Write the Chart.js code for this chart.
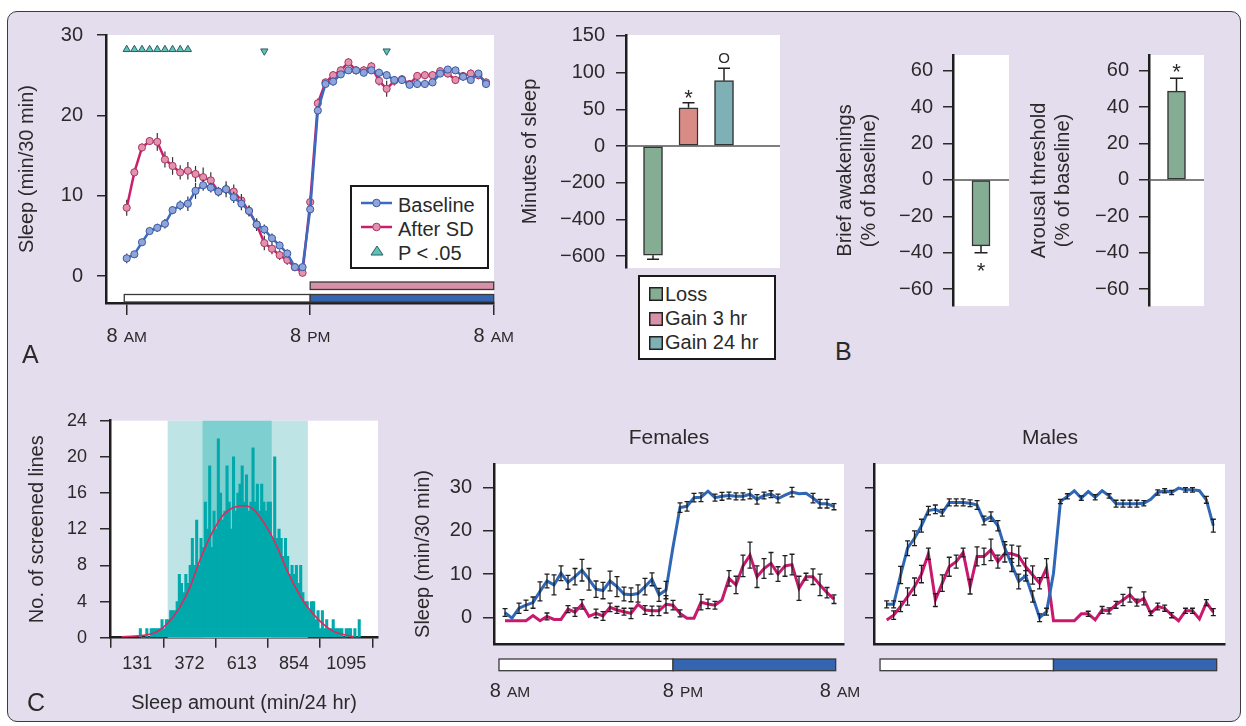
<!DOCTYPE html>
<html>
<head>
<meta charset="utf-8">
<script src="https://cdn.jsdelivr.net/npm/chart.js@4.4.1/dist/chart.umd.min.js"></script>
<style>
html, body { margin: 0; padding: 0; background: #fff; }
body { width: 1246px; height: 726px; position: relative; overflow: hidden;
       font-family: 'Liberation Sans', Arial, Helvetica, sans-serif; color: #2a2a2a; }
#frame { position: absolute; left: 7px; top: 11px; width: 1232px; height: 709px;
         border: 1.5px solid #3c3c3c; border-radius: 10px; background: #e4ddee; }
canvas { position: absolute; }
.panel { position: absolute; font-size: 25px; line-height: 25px; }
.ttl { position: absolute; font-size: 21px; line-height: 21px; transform: translateX(-50%); white-space: nowrap; }
.legend { position: absolute; background: #fff; border: 2px solid #1a1a1a; box-sizing: border-box; }
.row { position: absolute; left: 0; width: 100%; height: 24px; font-size: 20px; line-height: 24px; white-space: nowrap; }
.row span { position: absolute; top: 0; }
.row svg { position: absolute; top: 0; }
</style>
</head>
<body>
<div id="frame"></div>

<canvas id="cA"  width="520" height="355" style="left:10px;top:5px"></canvas>
<canvas id="cB1" width="280" height="295" style="left:510px;top:5px"></canvas>
<canvas id="cB2" width="200" height="311" style="left:820px;top:25px"></canvas>
<canvas id="cB3" width="200" height="311" style="left:1015px;top:25px"></canvas>
<canvas id="cH"  width="370" height="327" style="left:20px;top:390px"></canvas>
<canvas id="cF"  width="465" height="290" style="left:405px;top:420px"></canvas>
<canvas id="cM"  width="380" height="290" style="left:855px;top:420px"></canvas>

<div class="panel" style="left:22px;top:342px">A</div>
<div class="panel" style="left:835px;top:339px">B</div>
<div class="panel" style="left:27px;top:690px">C</div>
<div class="ttl" id="tF" style="left:669px;top:426px"></div>
<div class="ttl" id="tM" style="left:1050px;top:426px"></div>

<div class="legend" id="legA" style="left:350px;top:185px;width:139px;height:84px"></div>
<div class="legend" id="legB" style="left:638px;top:275px;width:138px;height:85px"></div>

<script>
// ---------- data ----------
// Panel A: sleep per 30 min, 48 half-hour bins starting 8 AM
const seriesNamesA = ['Baseline', 'After SD', 'P < .05'];
const baselineA = [2.2, 2.7, 4.2, 5.6, 6.0, 6.5, 8.2, 8.8, 9.0, 10.6, 11.3, 11.0, 10.5, 10.8, 9.8, 9.0,
  8.1, 6.4, 5.8, 4.7, 3.8, 2.8, 1.1, 1.1, 8.3, 20.6, 23.9, 24.2, 25.1, 25.6, 25.6, 25.3,
  25.6, 25.3, 25.0, 24.4, 24.4, 23.8, 23.9, 23.9, 24.1, 25.2, 25.7, 25.6, 24.8, 24.4, 25.2, 23.9];
const baselineErrA = [0.6, 0.4, 0.4, 0.4, 0.5, 0.6, 0.5, 0.6, 0.9, 1.0, 0.7, 0.6, 0.5, 0.6, 0.7, 0.8,
  0.7, 0.6, 0.6, 0.6, 0.5, 0.5, 0.4, 0.4, 0.6, 0.5, 0.4, 0.5, 0.4, 0.4, 0.4, 0.4,
  0.4, 0.5, 0.5, 0.4, 0.4, 0.4, 0.5, 0.4, 0.4, 0.4, 0.4, 0.4, 0.5, 0.4, 0.4, 0.4];
const afterSdA = [8.5, 12.9, 16.0, 16.8, 16.7, 14.5, 13.7, 12.9, 13.1, 12.7, 12.3, 11.9, 10.5, 10.8, 10.5, 9.4,
  8.1, 6.4, 4.1, 3.4, 2.6, 2.0, 1.1, 0.4, 9.2, 21.5, 24.1, 25.0, 25.6, 26.6, 25.6, 25.6,
  26.1, 24.3, 23.3, 24.3, 24.5, 23.9, 24.9, 25.0, 25.0, 25.5, 25.2, 24.4, 24.9, 25.2, 25.0, 24.1];
const afterSdErrA = [1.0, 0.5, 0.5, 0.5, 1.1, 1.0, 1.1, 0.9, 1.1, 1.0, 1.2, 1.0, 0.6, 1.0, 0.9, 0.8,
  0.6, 0.8, 0.9, 0.7, 0.6, 0.6, 0.4, 0.4, 0.8, 0.6, 0.5, 0.5, 0.5, 0.5, 0.5, 0.5,
  0.5, 0.6, 1.0, 0.6, 0.5, 0.5, 0.5, 0.5, 0.5, 0.5, 0.5, 0.5, 0.5, 0.5, 0.5, 0.5];
const sigUpHours = [0, 0.5, 1, 1.5, 2, 2.5, 3, 3.5, 4];
const sigDownHours = [9, 17];
const clockLabels = ['8 AM', '8 PM', '8 AM'];
const clockHours = [0, 12, 24];

// Panel B
const categoriesB = ['Loss', 'Gain 3 hr', 'Gain 24 hr'];
const minutesB = [-595, 52, 89];
const minutesErrB = [22, 7, 17];
const minutesMarkB = ['', '*', 'O'];
const awakeningsB = [-36.2];
const awakeningsErrB = [3.7];
const arousalB = [48.8];
const arousalErrB = [7.0];
const pctTicks = [-60, -40, -20, 0, 20, 40, 60];

// Panel C histogram (10-min bins starting at 140 min)
const binStart = 140, binWidth = 10;
const histCounts = [1, 0, 0, 1, 0, 1, 1, 1, 1, 1, 2, 1, 2, 2, 3, 3, 3, 4, 7, 6,
  5, 7, 6, 8, 11, 8, 13, 8, 11, 10, 15, 12, 19, 10, 14, 12, 22, 16, 13, 14,
  19, 15, 12, 20, 14, 16, 17, 19, 15, 18, 14, 15, 21, 15, 17, 14, 17, 15, 14, 15,
  15, 11, 20, 11, 12, 11, 9, 11, 9, 7, 8, 7, 8, 6, 8, 5, 4, 4, 3, 4,
  4, 2, 3, 1, 3, 1, 2, 1, 1, 2, 1, 1, 1, 1, 0, 1, 1, 1, 0, 1, 0, 2];
const fitX = [59, 205, 267, 328, 374, 420, 474, 528, 574, 624, 667, 721, 775, 821, 867, 913, 975, 1036, 1098, 1129];
const fitY = [0.1, 0.5, 1.5, 3.4, 5.6, 8.6, 11.5, 13.6, 14.4, 14.6, 14.2, 12.5, 10.1, 7.5, 5.3, 3.5, 1.8, 0.7, 0.26, 0.1];
const sdBands = [[271, 918], [432, 751]];
const histTicks = [131, 372, 613, 854, 1095];

// Panel C sexes
const sexTitles = ['Females', 'Males'];
const femaleBase = [1.1, -0.2, 2.1, 2.8, 3.4, 6.0, 8.4, 7.5, 10.2, 8.1, 9.4, 10.9, 8.8, 6.5, 6.2, 8.4,
  7.1, 5.4, 5.2, 5.5, 7.1, 8.8, 5.2, 6.3, 16.3, 25.4, 25.7, 27.7, 27.8, 29.2, 27.7, 28.0,
  28.2, 28.0, 28.0, 28.5, 27.3, 28.2, 28.5, 27.5, 28.3, 29.0, 28.6, 28.7, 27.6, 26.3, 26.3, 25.6];
const femaleBaseErr = [0.9, 0, 1.2, 1.2, 1.3, 2.2, 1.6, 2.3, 1.7, 1.6, 1.9, 2.5, 2.5, 1.9, 1.9, 2.3,
  2.3, 1.6, 1.6, 2.0, 1.9, 1.5, 1.5, 2.0, 0, 1.1, 1.1, 1.0, 1.0, 0, 0.8, 0.9,
  0.8, 0.8, 0.8, 1.1, 1.1, 0.8, 0.8, 1.0, 0, 1.1, 0, 0, 1.1, 1.0, 1.0, 0.7];
const femaleSd = [-0.8, -0.8, -0.8, -0.8, 0.4, -0.8, 0.2, -0.5, -0.5, 1.9, 1.2, 3.0, 0.2, 0.9, 0.3, 2.3,
  1.7, 1.3, 0.9, 3.0, 1.7, 1.5, 1.5, 3.0, 2.8, 0.9, -0.2, -0.2, 3.5, 3.1, 2.8, 4.0,
  9.0, 7.5, 11.9, 14.4, 9.4, 11.3, 12.5, 10.0, 11.9, 12.2, 6.7, 9.4, 9.4, 7.5, 5.7, 4.2];
const femaleSdErr = [0, 0, 0, 0, 0, 0, 0.8, 0, 0, 0.8, 1.0, 1.1, 0, 1.0, 1.0, 1.0,
  0.8, 0.8, 1.2, 0, 1.0, 1.1, 1.1, 2.0, 1.1, 0.8, 0, 0, 1.8, 1.1, 0.9, 0,
  1.8, 2.0, 2.5, 3.0, 2.5, 2.3, 2.5, 1.7, 2.4, 2.4, 2.8, 0.8, 1.8, 2.5, 1.2, 1.0];
const maleBase = [3.0, 3.0, 9.8, 16.0, 18.3, 21.2, 24.7, 25.0, 24.2, 26.6, 26.6, 26.6, 26.4, 26.0, 22.4, 23.3,
  21.2, 16.0, 12.1, 8.3, 9.6, 4.8, -0.1, 1.3, 10.2, 26.8, 28.0, 29.3, 27.6, 29.1, 27.8, 29.3,
  28.1, 26.3, 26.3, 26.3, 26.3, 26.4, 27.3, 28.9, 29.3, 28.9, 29.9, 29.5, 29.5, 29.3, 27.2, 21.2];
const maleBaseErr = [0.8, 0.8, 2.0, 1.7, 1.7, 1.5, 1.0, 1.0, 0.8, 0.8, 0.8, 0.8, 0.8, 1.0, 1.0, 1.1,
  1.2, 1.5, 1.5, 1.7, 1.2, 1.3, 0.9, 0.8, 0, 0.5, 0.6, 0, 0.5, 0, 0.6, 0,
  0.5, 0.8, 0.8, 0.8, 0.8, 0.6, 0, 0.6, 0.5, 0.5, 0, 0.5, 0.5, 0, 0.8, 1.5];
const maleSd = [-0.6, 0.5, 2.5, 4.8, 7.1, 10.0, 14.7, 4.0, 7.9, 11.7, 12.9, 15.0, 7.1, 14.1, 14.1, 15.6,
  12.9, 14.8, 14.7, 14.2, 11.7, 9.8, 7.9, 11.4, -0.8, -0.8, -0.8, -0.8, 0.8, 0.8, -0.6, 1.7,
  1.5, 2.9, 4.0, 5.2, 3.4, 4.4, 0.9, 2.5, 2.1, 0.5, -0.8, 1.5, 1.5, -0.4, 3.4, 1.2];
const maleSdErr = [0, 1.0, 1.2, 2.0, 2.0, 2.0, 1.3, 1.5, 1.9, 2.2, 1.5, 1.0, 1.7, 2.2, 1.9, 2.5,
  1.5, 2.0, 2.0, 2.3, 2.0, 2.1, 1.3, 2.2, 0, 0, 0, 0, 0, 0.6, 0, 0.8,
  0.7, 0.8, 1.3, 1.7, 0.8, 1.5, 0.5, 0.8, 0.7, 0.6, 0, 0.6, 0.6, 0, 0.7, 0.8];
const sleepTicks = [0, 10, 20, 30];

// ---------- styling ----------
const FONT = "'Liberation Sans', Arial, Helvetica, sans-serif";
const INK = '#2a2a2a';
const BLUE_A = '#3b6bbf', PINK_A = '#cc1e6d';
const BLUE_C = '#2f67b7', PINK_C = '#c9196f';
const DAY_WHITE = '#ffffff', NIGHT_BLUE = '#3565b0', SD_PINK = '#d690a8';

Chart.defaults.font.family = FONT;
Chart.defaults.font.size = 20;
Chart.defaults.color = INK;
Chart.defaults.animation = false;
Chart.defaults.responsive = false;
Chart.defaults.plugins.legend.display = false;
Chart.defaults.plugins.tooltip.enabled = false;

const halfHours = arr => arr.map((v, i) => ({ x: i * 0.5, y: v }));
const minus = v => v < 0 ? '\u2212' + (-v) : String(v);

// ---------- plugins ----------
const areaFill = {
  id: 'areaFill',
  beforeDraw(chart) {
    const a = chart.chartArea, ctx = chart.ctx;
    ctx.save();
    ctx.fillStyle = '#fff';
    ctx.fillRect(a.left, a.top, a.right - a.left, a.bottom - a.top);
    ctx.restore();
  }
};

function drawErrors(chart, index, o) {
  const ds = chart.data.datasets[index];
  if (!ds.err) return;
  const meta = chart.getDatasetMeta(index);
  const ys = chart.scales.y, ctx = chart.ctx;
  const tf = o.transform || (v => v);
  ctx.save();
  ctx.strokeStyle = o.color; ctx.lineWidth = o.width;
  meta.data.forEach((el, k) => {
    const e = ds.err[k];
    const v = ds.raw ? ds.raw[k] : ds.data[k].y;
    let lo = v - e, hi = v + e;
    if (o.outward) { if (v >= 0) lo = v; else hi = v; }
    const y1 = ys.getPixelForValue(tf(lo)), y2 = ys.getPixelForValue(tf(hi));
    if (e) {
      ctx.beginPath();
      ctx.moveTo(el.x, y1); ctx.lineTo(el.x, y2);
      if (o.cap) {
        const c = o.cap / 2;
        if (!o.outward || v < 0) { ctx.moveTo(el.x - c, y1); ctx.lineTo(el.x + c, y1); }
        if (!o.outward || v >= 0) { ctx.moveTo(el.x - c, y2); ctx.lineTo(el.x + c, y2); }
      }
      ctx.stroke();
    }
    const mark = ds.marks && ds.marks[k];
    if (mark) {
      const size = mark === '*' ? 22 : 15;
      const lift = mark === '*' ? 0.59 * size : 0.36 * size;
      const cy = v >= 0 ? y2 - o.markGap : y1 + o.markGap;
      ctx.fillStyle = INK;
      ctx.font = size + 'px ' + FONT;
      ctx.textAlign = 'center';
      ctx.textBaseline = 'alphabetic';
      ctx.fillText(mark, el.x, cy + lift);
    }
  });
  ctx.restore();
}
const errorBars = {
  id: 'errorBars',
  beforeDatasetDraw(chart, args, o) { if (o.under) drawErrors(chart, args.index, o); },
  afterDatasetDraw(chart, args, o) { if (!o.under) drawErrors(chart, args.index, o); }
};

const zeroLine = {
  id: 'zeroLine',
  beforeDatasetsDraw(chart) {
    const a = chart.chartArea, ctx = chart.ctx, y = chart.scales.y.getPixelForValue(0);
    ctx.save();
    ctx.strokeStyle = '#555'; ctx.lineWidth = 1.5;
    ctx.beginPath(); ctx.moveTo(a.left, y); ctx.lineTo(a.right, y); ctx.stroke();
    ctx.restore();
  }
};

const bands = {
  id: 'bands',
  beforeDatasetsDraw(chart, args, o) {
    const a = chart.chartArea, ctx = chart.ctx, xs = chart.scales.x;
    ctx.save();
    o.ranges.forEach((r, k) => {
      const x0 = xs.getPixelForValue(r[0]), x1 = xs.getPixelForValue(r[1]);
      ctx.fillStyle = o.colors[k];
      ctx.fillRect(x0, a.top, x1 - x0, a.bottom - a.top);
    });
    ctx.restore();
  }
};

const dayBar = {
  id: 'dayBar',
  afterDraw(chart, args, o) {
    const ctx = chart.ctx, xs = chart.scales.x, base = chart.chartArea.bottom;
    ctx.save();
    (o.bars || []).forEach(b => {
      const x0 = xs.getPixelForValue(b.from), x1 = xs.getPixelForValue(b.to);
      ctx.fillStyle = b.fill;
      ctx.fillRect(x0, base + b.y, x1 - x0, b.h);
      ctx.strokeStyle = '#3a3a3a'; ctx.lineWidth = 1.3;
      ctx.strokeRect(x0, base + b.y, x1 - x0, b.h);
    });
    (o.labels || []).forEach(l => {
      const px = xs.getPixelForValue(l.at);
      const [big, small] = l.text.split(' ');
      ctx.font = '20px ' + FONT; const w1 = ctx.measureText(big).width;
      ctx.font = '15.5px ' + FONT; const w2 = ctx.measureText(small).width;
      const gap = 6, x = px - (w1 + gap + w2) / 2, y = base + o.labelY;
      ctx.fillStyle = INK; ctx.textAlign = 'left'; ctx.textBaseline = 'alphabetic';
      ctx.font = '20px ' + FONT; ctx.fillText(big, x, y);
      ctx.font = '15.5px ' + FONT; ctx.fillText(small, x + w1 + gap, y);
    });
    ctx.restore();
  }
};

// ---------- axis helpers ----------
function yAxis(o) {
  return {
    type: 'linear', min: o.min, max: o.max,
    afterBuildTicks: s => { s.ticks = o.ticks.map(v => ({ value: v })); },
    afterFit: s => { s.width = o.width; },
    grid: { drawOnChartArea: false, drawTicks: true, tickLength: o.tickLen || 10, color: INK, lineWidth: 1.5 },
    border: { display: true, color: '#1e1e1e', width: 2.5 },
    ticks: { display: o.labels !== false, padding: o.pad || 12, font: { size: o.font || 20 }, color: INK,
             callback: o.fmt || minus },
    title: o.title ? { display: true, text: o.title, padding: { top: o.titlePad, bottom: 0 },
                       font: { size: 20 }, color: INK } : { display: false }
  };
}
function hourAxis(min, max, height, tickLen) {
  return {
    type: 'linear', min: min, max: max, offset: false,
    afterBuildTicks: s => { s.ticks = clockHours.map(v => ({ value: v })); },
    afterFit: s => { s.height = height; },
    grid: { display: !!tickLen, drawOnChartArea: false, tickLength: tickLen || 0, color: INK, lineWidth: 1.5 },
    border: { display: true, color: '#1e1e1e', width: 2.5 },
    ticks: { display: false }
  };
}

// ---------- Panel A ----------
new Chart(document.getElementById('cA'), {
  type: 'line',
  data: {
    datasets: [
      { label: seriesNamesA[0], data: halfHours(baselineA), err: baselineErrA,
        borderColor: BLUE_A, borderWidth: 2.5, pointRadius: 3.6, pointBorderWidth: 1,
        pointBackgroundColor: '#8fa4d9', pointBorderColor: '#3b5aa5', tension: 0 },
      { label: seriesNamesA[1], data: halfHours(afterSdA), err: afterSdErrA,
        borderColor: PINK_A, borderWidth: 2.5, pointRadius: 3.6, pointBorderWidth: 1,
        pointBackgroundColor: '#e391b0', pointBorderColor: '#a8385f', tension: 0 },
      { label: seriesNamesA[2], showLine: false,
        data: sigUpHours.map(h => ({ x: h, y: 28.2 })).concat(sigDownHours.map(h => ({ x: h, y: 28.0 }))),
        pointStyle: 'triangle', pointRadius: 4.2, pointBorderWidth: 1,
        pointRotation: sigUpHours.map(() => 0).concat(sigDownHours.map(() => 180)),
        pointBackgroundColor: '#5ec2ba', pointBorderColor: '#2d5f5c' }
    ]
  },
  options: {
    layout: { padding: { left: 0, top: 30, right: 36, bottom: 0 } },
    scales: {
      x: hourAxis(-1.354, 24.02, 57, 12),
      y: yAxis({ min: -3.36, max: 30, ticks: sleepTicks, width: 96, tickLen: 9, pad: 14,
                 title: 'Sleep (min/30 min)', titlePad: 5 })
    },
    plugins: {
      errorBars: { under: true, color: '#333', width: 1.2, cap: 0 },
      dayBar: {
        bars: [
          { from: -0.16, to: 12, y: -8.5, h: 7.5, fill: DAY_WHITE },
          { from: 12, to: 24, y: -8.5, h: 7.5, fill: NIGHT_BLUE },
          { from: 12, to: 24, y: -21, h: 7.5, fill: SD_PINK }
        ],
        labels: clockLabels.map((t, i) => ({ text: t, at: clockHours[i] })),
        labelY: 39
      }
    }
  },
  plugins: [areaFill, errorBars, dayBar]
});

// ---------- Panel B: minutes of sleep (broken axis: negatives compressed 4x) ----------
const toAxis = m => m < 0 ? m / 4 : m;
new Chart(document.getElementById('cB1'), {
  type: 'bar',
  data: {
    datasets: [{
      data: minutesB.map((m, i) => ({ x: i + 1, y: toAxis(m) })),
      raw: minutesB, err: minutesErrB, marks: minutesMarkB,
      backgroundColor: ['#85ad94', '#d98c85', '#7fb0b6'],
      borderColor: '#333', borderWidth: 1.5, borderSkipped: false, barThickness: 19
    }]
  },
  options: {
    layout: { padding: { left: 0, top: 30, right: 10, bottom: 32 } },
    scales: {
      x: { type: 'linear', display: false, min: 0.239, max: 4.577, offset: false },
      y: yAxis({ min: -166.2, max: 151.2, ticks: [-150, -100, -50, 0, 50, 100, 150], width: 116,
                 tickLen: 10, pad: 11, fmt: v => v < 0 ? '\u2212' + (-v * 4) : String(v),
                 title: 'Minutes of sleep', titlePad: 8 })
    },
    plugins: { errorBars: { under: false, outward: true, color: '#222', width: 1.5, cap: 12,
                            transform: toAxis, markGap: 11 } }
  },
  plugins: [areaFill, zeroLine, errorBars]
});

function pctChart(id, values, errs, title, yWidth, titlePad) {
  new Chart(document.getElementById(id), {
    type: 'bar',
    data: {
      datasets: [{
        data: values.map((v, i) => ({ x: i + 1, y: v })), err: errs, marks: ['*'],
        backgroundColor: '#85ad94', borderColor: '#333', borderWidth: 1.5,
        borderSkipped: false, barThickness: 18
      }]
    },
    options: {
      layout: { padding: { left: 0, top: 30, right: 11, bottom: 30 } },
      scales: {
        x: { type: 'linear', display: false, min: 0, max: 2, offset: false },
        y: yAxis({ min: -69.2, max: 68.6, ticks: pctTicks, width: yWidth, tickLen: 10, pad: 10,
                   title: title, titlePad: titlePad })
      },
      plugins: { errorBars: { under: false, outward: true, color: '#222', width: 1.5, cap: 13, markGap: 12 } }
    },
    plugins: [areaFill, zeroLine, errorBars]
  });
}
pctChart('cB2', awakeningsB, awakeningsErrB, ['Brief awakenings', '(% of baseline)'], 133, 13);
pctChart('cB3', arousalB, arousalErrB, ['Arousal threshold', '(% of baseline)'], 134, 12);

// ---------- Panel C: histogram ----------
new Chart(document.getElementById('cH'), {
  type: 'bar',
  data: {
    datasets: [
      { type: 'line', data: fitX.map((x, i) => ({ x: x, y: fitY[i] })), borderColor: '#e5265c',
        borderWidth: 1.6, pointRadius: 0, tension: 0.4, cubicInterpolationMode: 'monotone' },
      { type: 'bar', data: histCounts.map((c, i) => ({ x: binStart + i * binWidth + binWidth / 2, y: c })),
        backgroundColor: '#00a9ab', borderWidth: 0, barThickness: 2.4 }
    ]
  },
  options: {
    layout: { padding: { left: 0, top: 30.7, right: 12, bottom: 0 } },
    scales: {
      x: {
        type: 'linear', min: 5, max: 1241.6, offset: false,
        afterBuildTicks: s => { s.ticks = histTicks.map(v => ({ value: v })); },
        afterFit: s => { s.height = 79.3; },
        grid: { drawOnChartArea: false, tickLength: 10, color: INK, lineWidth: 1.5 },
        border: { display: true, color: '#1e1e1e', width: 2.5 },
        ticks: { font: { size: 18 }, padding: 6, maxRotation: 0, autoSkip: false, color: INK,
                 callback: v => String(v) },
        title: { display: true, text: 'Sleep amount (min/24 hr)', font: { size: 20 },
                 padding: { top: 0, bottom: 2 }, color: INK }
      },
      y: yAxis({ min: 0, max: 24, ticks: [0, 4, 8, 12, 16, 20, 24], width: 90, tickLen: 10, pad: 13,
                 font: 18, title: 'No. of screened lines', titlePad: 5 })
    },
    plugins: { bands: { ranges: sdBands, colors: ['#bfe4e6', '#7dcfd0'] } }
  },
  plugins: [areaFill, bands]
});

// ---------- Panel C: females / males ----------
function sexChart(id, base, baseErr, sd, sdErr, xMin, xMax, whiteFrom, blueTo, yOpts, labels) {
  new Chart(document.getElementById(id), {
    type: 'line',
    data: {
      datasets: [
        { data: halfHours(base), err: baseErr, borderColor: BLUE_C, borderWidth: 3, pointRadius: 0, tension: 0 },
        { data: halfHours(sd), err: sdErr, borderColor: PINK_C, borderWidth: 3, pointRadius: 0, tension: 0 }
      ]
    },
    options: {
      layout: { padding: { left: 0, top: 44, right: yOpts.right, bottom: 0 } },
      scales: { x: hourAxis(xMin, xMax, 66, 0), y: yAxis(yOpts) },
      plugins: {
        errorBars: { under: false, color: '#1e1e1e', width: 1.3, cap: 5 },
        dayBar: {
          bars: [
            { from: whiteFrom, to: 12, y: 15, h: 11.7, fill: DAY_WHITE },
            { from: 12, to: blueTo, y: 15, h: 11.7, fill: NIGHT_BLUE }
          ],
          labels: labels, labelY: 53
        }
      }
    },
    plugins: [areaFill, errorBars, dayBar]
  });
}
sexChart('cF', femaleBase, femaleBaseErr, femaleSd, femaleSdErr, -0.786, 24.214, -0.43, 23.62,
  { min: -6.18, max: 35.49, ticks: sleepTicks, width: 89, tickLen: 11, pad: 11, right: 26,
    title: 'Sleep (min/30 min)', titlePad: 6 },
  clockLabels.map((t, i) => ({ text: t, at: [0.36, 12.71, 23.93][i] })));
sexChart('cM', maleBase, maleBaseErr, maleSd, maleSdErr, -0.914, 24.34, -0.48, 23.74,
  { min: -6.18, max: 35.49, ticks: sleepTicks, width: 19, tickLen: 9, labels: false, right: 10 },
  []);

document.getElementById('tF').textContent = sexTitles[0];
document.getElementById('tM').textContent = sexTitles[1];

// ---------- legends ----------
const legA = document.getElementById('legA');
legA.innerHTML =
  '<div class="row" style="top:5.8px"><svg width="34" height="20" style="left:8.7px">' +
  '<line x1="0" y1="10" x2="31" y2="10" stroke="' + BLUE_A + '" stroke-width="2.5"/>' +
  '<circle cx="15.5" cy="10" r="3.8" fill="#8fa4d9" stroke="#3b5aa5" stroke-width="1"/></svg>' +
  '<span style="left:46px">' + seriesNamesA[0] + '</span></div>' +
  '<div class="row" style="top:30.1px"><svg width="34" height="20" style="left:8.7px">' +
  '<line x1="0" y1="10" x2="31" y2="10" stroke="' + PINK_A + '" stroke-width="2.5"/>' +
  '<circle cx="15.5" cy="10" r="3.8" fill="#e391b0" stroke="#a8385f" stroke-width="1"/></svg>' +
  '<span style="left:46px">' + seriesNamesA[1] + '</span></div>' +
  '<div class="row" style="top:54.1px"><svg width="34" height="20" style="left:8.7px">' +
  '<polygon points="10,14 22,14 16,5" fill="#5ec2ba" stroke="#2d5f5c" stroke-width="1"/></svg>' +
  '<span style="left:46px">' + seriesNamesA[2] + '</span></div>';

const legB = document.getElementById('legB');
const swB = ['#85ad94', '#d991a8', '#7fb0b6'];
legB.innerHTML = categoriesB.map((c, i) =>
  '<div class="row" style="top:' + (5.1 + 24.15 * i) + 'px"><svg width="14" height="14" style="left:8.5px;top:5.4px">' +
  '<rect x="0.75" y="0.75" width="12.5" height="12.5" fill="' + swB[i] + '" stroke="#222" stroke-width="1.5"/></svg>' +
  '<span style="left:25px">' + c + '</span></div>').join('');
</script>
</body>
</html>
